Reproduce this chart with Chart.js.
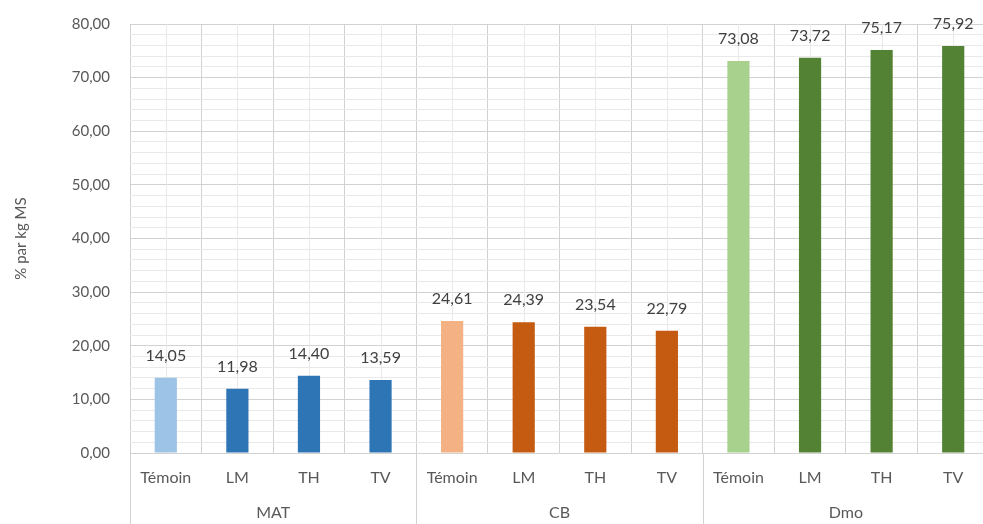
<!DOCTYPE html>
<html>
<head>
<meta charset="utf-8">
<script src="https://cdn.jsdelivr.net/npm/chart.js@4/dist/chart.umd.min.js"></script>
<style>
  html, body { margin: 0; padding: 0; overflow: hidden; background: #fff; }
</style>
</head>
<body>
<canvas id="chart" width="1000" height="524"></canvas>
<script>
// composition values, % par kg MS
const groups = ["MAT", "CB", "Dmo"];
const treatments = ["Témoin", "LM", "TH", "TV"];
const matValues = [14.05, 11.98, 14.40, 13.59];
const cbValues = [24.61, 24.39, 23.54, 22.79];
const dmoValues = [73.08, 73.72, 75.17, 75.92];
const yMin = 0;
const yMax = 80;
const yMajorStep = 10;
const yMinorStep = 2;

// light shade for the control, dark shade for the treatments
const groupColors = [
  ["#9dc3e6", "#2e75b6"],
  ["#f4b183", "#c55a11"],
  ["#a9d18e", "#548235"]
];

const labels = [];
const values = [];
const colors = [];
[matValues, cbValues, dmoValues].forEach((vals, g) => {
  vals.forEach((v, i) => {
    labels.push(treatments[i]);
    values.push(v);
    colors.push(i === 0 ? groupColors[g][0] : groupColors[g][1]);
  });
});

const fmt = v => v.toFixed(2).replace(".", ",");
const FONT = "Lato, 'Noto Sans', sans-serif";
const MAJOR = "#d2d2d2";
const MINOR = "#e9e9e9";

const centerLines = {
  id: "centerLines",
  beforeDatasetsDraw(chart) {
    const { ctx, chartArea, scales } = chart;
    ctx.save();
    ctx.strokeStyle = MINOR;
    ctx.lineWidth = 1;
    labels.forEach((_, i) => {
      const x = Math.round(scales.x.getPixelForValue(i)) + 0.5;
      ctx.beginPath();
      ctx.moveTo(x, chartArea.top);
      ctx.lineTo(x, chartArea.bottom);
      ctx.stroke();
    });
    ctx.restore();
  }
};

const valueLabels = {
  id: "valueLabels",
  afterDatasetsDraw(chart) {
    const { ctx } = chart;
    const meta = chart.getDatasetMeta(0);
    ctx.save();
    ctx.font = "16px " + FONT;
    ctx.fillStyle = "#404040";
    ctx.textAlign = "center";
    ctx.textBaseline = "middle";
    meta.data.forEach((bar, i) => {
      ctx.fillText(fmt(values[i]), bar.x, bar.y - 22);
    });
    ctx.restore();
  }
};

const groupAxis = {
  id: "groupAxis",
  afterDraw(chart) {
    const { ctx, chartArea, scales, height } = chart;
    const xs = scales.x;
    const half = (xs.getPixelForValue(1) - xs.getPixelForValue(0)) / 2;
    const n = treatments.length;
    ctx.save();
    ctx.strokeStyle = MAJOR;
    ctx.lineWidth = 1;
    for (let g = 0; g <= groups.length; g++) {
      const x = Math.round(xs.getPixelForValue(g * n) - half) + 0.5;
      ctx.beginPath();
      ctx.moveTo(x, chartArea.bottom);
      ctx.lineTo(x, height);
      ctx.stroke();
    }
    ctx.font = "16px " + FONT;
    ctx.fillStyle = "#595959";
    ctx.textAlign = "center";
    ctx.textBaseline = "middle";
    groups.forEach((name, g) => {
      const x = (xs.getPixelForValue(g * n) + xs.getPixelForValue(g * n + n - 1)) / 2;
      ctx.fillText(name, x, 513);
    });
    ctx.restore();
  }
};

new Chart(document.getElementById("chart"), {
  type: "bar",
  data: {
    labels: labels,
    datasets: [{
      data: values,
      backgroundColor: colors,
      borderWidth: 0,
      barPercentage: 0.31,
      categoryPercentage: 1
    }]
  },
  options: {
    responsive: false,
    animation: false,
    layout: { padding: { top: 24, right: 11, left: 0, bottom: 0 } },
    plugins: {
      legend: { display: false },
      tooltip: { enabled: false }
    },
    scales: {
      x: {
        type: "category",
        afterFit(scale) {
          scale.height = 71;
          scale.paddingLeft = 0;
          scale.paddingRight = 0;
        },
        grid: { offset: true, color: MAJOR, drawTicks: false },
        border: { display: false },
        ticks: {
          padding: 15,
          color: "#595959",
          font: { family: FONT, size: 16 },
          maxRotation: 0,
          autoSkip: false
        }
      },
      y: {
        min: yMin,
        max: yMax,
        afterFit(scale) {
          scale.width = 130;
          scale.paddingTop = 0;
          scale.paddingBottom = 0;
        },
        grid: {
          color: ctx => (ctx.tick && ctx.tick.value % yMajorStep === 0) ? MAJOR : MINOR,
          drawTicks: false
        },
        border: { display: false },
        ticks: {
          stepSize: yMinorStep,
          autoSkip: false,
          padding: 20,
          color: "#595959",
          font: { family: FONT, size: 15 },
          callback: v => (v % yMajorStep === 0 ? fmt(v) : "")
        },
        title: {
          display: true,
          text: "% par kg MS",
          color: "#595959",
          font: { family: FONT, size: 15 },
          padding: { top: 12, bottom: 0 }
        }
      }
    }
  },
  plugins: [centerLines, valueLabels, groupAxis]
});
</script>
</body>
</html>
